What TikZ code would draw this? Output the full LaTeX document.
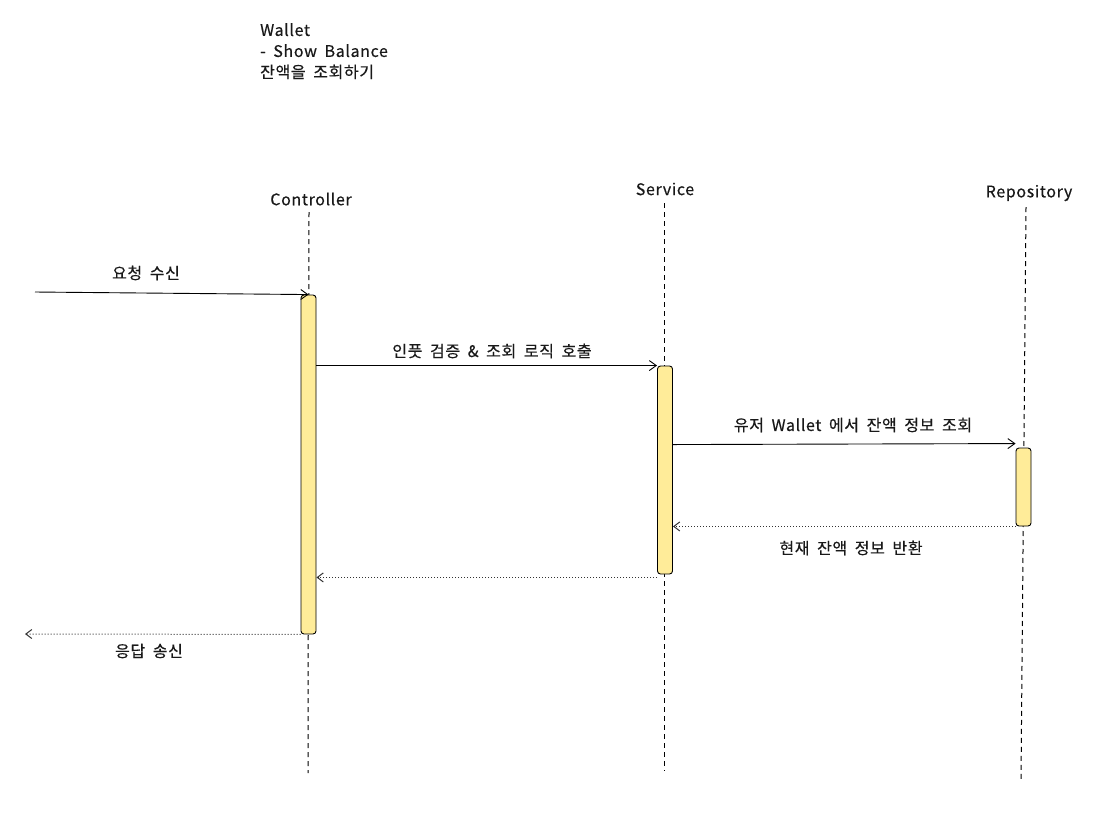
\documentclass[tikz,border=0pt]{standalone}
\usepackage{fontspec}
\setmainfont[LetterSpace=4,WordSpace=1.8,FakeBold=0.4]{Noto Sans CJK KR}
\usetikzlibrary{arrows.meta}
\definecolor{actfill}{HTML}{FFEC99}
\begin{document}
\begin{tikzpicture}[x=1pt,y=-1pt,
  lbl/.style={font=\fontsize{16}{21}\selectfont, inner sep=0pt, text=black!90},
  life/.style={draw=black, line width=1pt, dash pattern=on 5pt off 4pt},
  act/.style={draw=black, line width=0.9pt, fill=actfill, rounded corners=3pt, minimum width=15pt, inner sep=0pt},
  msg/.style={draw=black, line width=0.9pt, -{Straight Barb[length=7pt,width=10pt]}},
  ret/.style={draw=black!80, line width=1pt, dotted, -{Straight Barb[length=6pt,width=9pt]}},
]
\useasboundingbox (0,0) rectangle (1113,823);
% title
\node[lbl, anchor=north west, align=left] (title) at (260,23) {Wallet\\- Show Balance\\잔액을 조회하기};
% participants
\node[lbl] (ctl) at (311,199) {Controller};
\node[lbl] (svc) at (665,189) {Service};
\node[lbl] (repo) at (1029,193) {Repository};
% lifelines
\coordinate (ctltop) at (309,212);
\coordinate (ctlbot) at (308,773);
\coordinate (svctop) at (664,203);
\coordinate (svcbot) at (664,771);
\coordinate (repotop) at (1026,207);
\coordinate (repobot) at (1021,779);
\draw[life] (ctltop) -- (ctlbot);
\draw[life] (svctop) -- (svcbot);
\draw[life] (repotop) -- (repobot);
% activations
\node[act, minimum height=339pt] (ca) at (308.5,464.5) {};
\node[act, minimum height=208pt] (sa) at (665,470) {};
\node[act, minimum height=78pt] (ra) at (1023.5,487) {};
% messages
\coordinate (src) at (35,292);
\coordinate (out) at (25,634);
\draw[msg] (src) -- (ca.north);
\node[lbl] (m1) at (146,273) {요청 수신};
\draw[msg] (ca.east |- sa.north) -- (sa.north west);
\node[lbl] (m2) at (492,351) {인풋 검증 \& 조회 로직 호출};
\draw[msg] ([yshift=3pt]sa.east |- ra.north) -- ([yshift=4pt]ra.north west);
\node[lbl] (m3) at (853,425) {유저 Wallet 에서 잔액 정보 조회};
\draw[ret] (ra.south west) -- (sa.east |- ra.south);
\node[lbl] (m4) at (851,548) {현재 잔액 정보 반환};
\draw[ret] ([yshift=-3pt]sa.south west) -- ([yshift=-3pt]ca.east |- sa.south);
\draw[ret] (ca.south west) -- (out);
\node[lbl] (m5) at (149,651) {응답 송신};
\end{tikzpicture}
\end{document}
